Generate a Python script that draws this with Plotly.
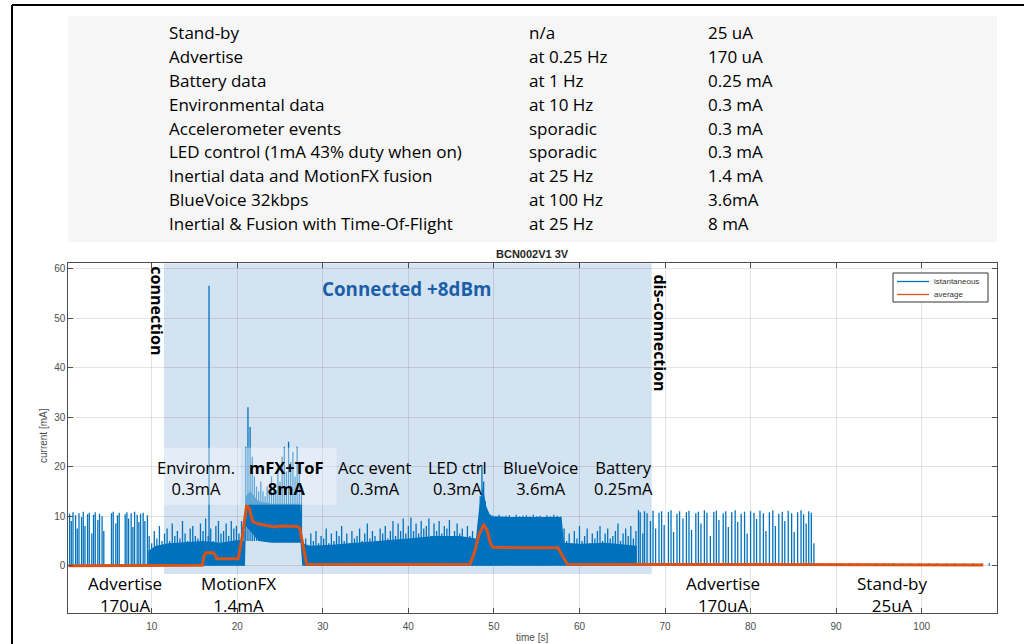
import plotly.graph_objects as go

W, H = 1024, 644

# ---------------- table data ----------------
table_names = ["Stand-by", "Advertise", "Battery data", "Environmental data",
               "Accelerometer events", "LED control (1mA 43% duty when on)",
               "Inertial data and MotionFX fusion", "BlueVoice 32kbps",
               "Inertial & Fusion with Time-Of-Flight"]
table_rates = ["n/a", "at 0.25 Hz", "at 1 Hz", "at 10 Hz", "sporadic", "sporadic",
               "at 25 Hz", "at 100 Hz", "at 25 Hz"]
table_currents = ["25 uA", "170 uA", "0.25 mA", "0.3 mA", "0.3 mA", "0.3 mA",
                  "1.4 mA", "3.6mA", "8 mA"]

# ---------------- instantaneous current: advertising spikes ----------------
adv1_t = [0.4, 0.6, 0.8, 1.1, 1.3, 1.5, 1.8, 2.0, 2.2, 2.5, 2.7, 3.0, 3.2, 3.4, 3.7, 3.9, 4.2, 4.4,
          5.3, 5.5, 5.8, 6.0, 6.2,
          6.9, 7.1, 7.3, 7.6, 7.8, 8.0, 8.3, 8.5, 8.7, 9.0, 9.2, 9.5]
adv1_h = [10.5, 9.0, 10.8, 10.2, 7.5, 10.6, 9.8, 10.9, 8.0, 10.4, 10.7, 6.5, 10.3, 10.8, 9.2, 10.5, 10.0, 7.0,
          10.6, 10.9, 8.5, 10.2, 10.7,
          10.4, 10.8, 9.5, 10.6, 7.8, 10.9, 10.3, 8.8, 10.5, 10.7, 9.0, 10.2]

adv2_t = [66.9, 67.1, 67.4, 67.6, 67.9, 68.3, 68.6, 68.9, 69.3, 69.6,
          69.9, 70.4, 70.7, 71.0, 71.4, 71.7, 72.1, 72.5, 72.8, 73.1,
          73.6, 73.9, 74.2, 74.6, 74.9, 75.3, 75.7, 76.0, 76.3, 76.8,
          77.1, 77.4, 77.8, 78.2, 78.5, 78.9, 79.3, 79.6, 80.0, 80.4,
          80.7, 81.1, 81.5, 81.8, 82.2, 82.6, 82.9, 83.3, 83.7, 84.0,
          84.4, 84.8, 85.1, 85.5, 85.9, 86.2, 86.5, 86.8, 87.1, 87.4]
adv2_h = [11.2, 10.8, 6.5, 11.0, 10.6, 9.0, 11.1, 7.5, 10.7, 11.0,
          8.2, 10.9, 11.2, 6.8, 10.5, 11.0, 9.5, 10.8, 11.1, 7.2,
          10.6, 10.9, 8.5, 11.2, 10.7, 6.0, 10.9, 11.1, 9.2, 10.6,
          11.0, 7.8, 10.8, 11.2, 8.8, 10.5, 10.9, 6.5, 11.0, 10.7,
          9.4, 11.1, 10.6, 7.0, 10.8, 11.2, 8.0, 10.5, 10.9, 9.0,
          11.1, 10.6, 6.8, 10.8, 11.2, 10.4, 8.5, 11.0, 10.7, 4.5]

standby_t = [88.4, 89.4, 90.5, 91.5, 92.5, 93.6, 94.6, 95.6, 96.7, 97.7,
             98.7, 99.8, 100.8, 101.8, 102.9, 103.9, 104.9, 106.0, 107.0, 107.9]
standby_h = [0.5, 0.5, 0.5, 0.5, 0.5, 0.5, 0.5, 0.5, 0.5, 0.5,
             0.5, 0.5, 0.5, 0.5, 0.5, 0.5, 0.5, 0.5, 0.5, 0.5]

# ---------------- instantaneous current: connected phases (regular sampling) ----------------
envA_start, envA_step = 9.7, 0.3
envA_h = [6.0, 4.5, 7.0, 5.5, 8.0, 5.0, 6.5, 7.5, 5.0, 8.5,
          6.0, 7.0, 5.5, 9.0, 6.5, 5.0, 7.5, 8.0, 6.0, 5.5,
          8.5, 7.0, 9.5, 6.0, 7.5, 5.0, 8.0, 9.0, 6.5, 7.0,
          8.5, 6.0, 9.0, 7.5, 8.0, 6.5, 9.0, 7.0]
tofB_start, tofB_step, tofB_base = 21.0, 0.25, 5.0
tofB_h = [24, 32, 28, 22, 18, 16, 15, 17, 15, 14,
          16, 15, 18, 16, 15, 20, 17, 22, 24, 19,
          25, 21, 23, 18, 24, 20, 16]
accC_start, accC_step = 28.0, 0.3
accC_h = [5.5, 4.0, 6.5, 5.0, 7.0, 4.5, 6.0, 5.5, 7.5, 4.5,
          6.5, 5.0, 7.0, 6.0, 8.0, 5.0, 6.5, 4.5, 7.0, 5.5,
          6.0, 7.5, 5.0, 6.5, 8.5, 5.5, 7.0, 6.0, 5.0, 7.5,
          6.5, 8.0, 5.5, 7.0, 9.0, 6.0, 8.5, 7.0, 9.5, 6.5,
          8.0, 9.7, 7.0, 8.5, 6.5, 9.0, 7.5, 8.0, 9.5, 6.0,
          8.5, 7.0, 9.0, 6.5, 8.0, 7.5, 9.2, 6.0, 7.0, 8.5,
          6.5, 7.5, 5.5, 8.0, 6.0, 7.0, 5.0]
ledD_start, ledD_step = 48.0, 0.2
ledD_h = [5, 9, 14, 20, 17, 13, 11, 10.5, 10.3]
bvE_start, bvE_step = 49.8, 0.4
bvE_h = [10.2, 10.0, 10.3, 9.9, 10.1, 10.2, 9.8, 10.3, 10.0, 10.1,
         10.2, 9.9, 10.3, 10.0, 10.1, 9.8, 10.2, 10.0, 10.3, 10.1, 9.9]
batF_start, batF_step = 58.2, 0.3
batF_h = [7.5, 5.0, 6.5, 4.5, 7.0, 5.5, 8.0, 5.0, 6.0, 7.5,
          4.5, 6.5, 5.5, 7.0, 8.0, 5.0, 6.5, 7.5, 5.5, 6.0,
          7.0, 8.5, 5.0, 6.5, 7.5, 6.0, 8.0, 5.5, 7.0]
tall_t = [16.7]
tall_h = [56.5]

# dense band (envelope of the densely packed samples)
band_t = [9.6, 10.5, 12.0, 14.0, 16.0, 18.0, 20.0, 20.9, 21.0, 21.5,
          22.5, 24.0, 26.0, 27.4, 27.6, 28.5, 31.0, 34.0, 37.0, 40.0,
          43.0, 46.0, 47.9, 48.3, 48.7, 49.1, 49.6, 52.0, 55.0, 57.9,
          58.2, 60.0, 63.0, 66.7]
band_hi = [3.0, 4.0, 4.5, 4.8, 5.0, 4.6, 5.2, 5.0, 14.0, 15.0,
           13.0, 12.5, 12.5, 12.5, 4.5, 4.0, 4.2, 4.6, 5.0, 5.5,
           6.0, 6.0, 5.5, 12.0, 16.0, 12.0, 10.0, 9.8, 9.8, 9.8,
           4.6, 4.4, 4.6, 4.0]
band_lo = [0, 0, 0, 0, 0, 0, 0, 0, 8.0, 7.0,
           5.0, 4.6, 4.6, 4.6, 0, 0, 0, 0, 0, 0,
           0, 0, 0, 0, 0, 0, 0, 0, 0, 0,
           0, 0, 0, 0]

# ---------------- average current ----------------
avg_t = [0.25, 10.0, 15.9, 16.1, 16.3, 17.2, 17.4, 17.6, 20.1, 20.6,
         21.1, 21.4, 21.8, 22.5, 23.8, 24.4, 25.0, 27.0, 27.3, 27.7,
         28.1, 40.0, 47.2, 47.7, 48.3, 48.8, 49.2, 49.6, 49.9, 54.0,
         57.5, 58.0, 58.6, 70.0, 87.5, 107.2]
avg_y = [0.0, 0.05, 0.1, 1.8, 2.6, 2.6, 2.2, 1.4, 1.4, 6.0,
         12.2, 11.6, 8.9, 8.4, 8.0, 7.8, 8.0, 7.9, 7.6, 4.0,
         0.3, 0.25, 0.3, 2.5, 6.5, 8.2, 7.2, 4.5, 3.7, 3.6,
         3.6, 2.0, 0.3, 0.25, 0.2, 0.15]

# ---------------- annotation labels ----------------
phase_labels = ["Environm.<br>0.3mA", "<b>mFX+ToF<br>8mA</b>", "Acc event<br>0.3mA",
                "LED ctrl<br>0.3mA", "BlueVoice<br>3.6mA", "Battery<br>0.25mA"]
phase_x = [15.18, 25.70, 36.04, 45.80, 55.39, 65.09]
bottom_labels = ["Advertise<br>170uA", "MotionFX<br>1.4mA", "Advertise<br>170uA", "Stand-by<br>25uA"]
bottom_x = [6.88, 20.09, 76.83, 96.64]
legend_names = ["istantaneous", "average"]

BLUE = "#0072BD"
ORANGE = "#D95319"

def spike_xy(times, heights, base=0.0):
    xs, ys = [], []
    for t, h in zip(times, heights):
        xs += [t, t, None]
        ys += [base, h, None]
    return xs, ys

def grid_times(start, step, vals):
    return [round(start + i * step, 4) for i in range(len(vals))]

sx, sy = [], []
for tt, hh, b in [
    (adv1_t, adv1_h, 0.0),
    (grid_times(envA_start, envA_step, envA_h), envA_h, 0.0),
    (grid_times(tofB_start, tofB_step, tofB_h), tofB_h, tofB_base),
    (grid_times(accC_start, accC_step, accC_h), accC_h, 0.0),
    (grid_times(ledD_start, ledD_step, ledD_h), ledD_h, 0.0),
    (grid_times(bvE_start, bvE_step, bvE_h), bvE_h, 0.0),
    (grid_times(batF_start, batF_step, batF_h), batF_h, 0.0),
    (tall_t, tall_h, 0.0),
    (adv2_t, adv2_h, 0.0),
    (standby_t, standby_h, 0.0),
]:
    x_, y_ = spike_xy(tt, hh, b)
    sx += x_
    sy += y_

fig = go.Figure()

fig.add_trace(go.Scatter(
    x=band_t + band_t[::-1], y=band_hi + band_lo[::-1],
    fill="toself", fillcolor=BLUE, line=dict(width=0, color=BLUE),
    mode="lines", showlegend=False, hoverinfo="skip"))

fig.add_trace(go.Scatter(x=sx, y=sy, mode="lines", name=legend_names[0],
                         line=dict(color=BLUE, width=1.3), showlegend=False))
fig.add_trace(go.Scatter(x=avg_t, y=avg_y, mode="lines", name=legend_names[1],
                         line=dict(color=ORANGE, width=3), showlegend=False))

# ---------------- layout ----------------
x0p, x1p = 68.3 / W, 996.7 / W
y0p, y1p = (H - 612.7) / H, (H - 263.3) / H

def px_x(px):
    return px / W

def px_y(py):
    return (H - py) / H

axis_font = dict(family="Liberation Sans, Arial, sans-serif", size=10, color="#4d4d4d")
fig.update_layout(
    width=W, height=H,
    margin=dict(l=0, r=0, t=0, b=0),
    paper_bgcolor="white", plot_bgcolor="white",
    showlegend=False,
    xaxis=dict(domain=[x0p, x1p], range=[0.25, 108.77],
               tickvals=[10, 20, 30, 40, 50, 60, 70, 80, 90, 100],
               showgrid=True, gridcolor="rgba(38,38,38,0.13)", gridwidth=1,
               zeroline=False, showline=True, linecolor="#4d4d4d", linewidth=1,
               mirror="ticks", ticks="inside", ticklen=5, tickcolor="#4d4d4d",
               tickfont=axis_font, ticklabelstandoff=4),
    yaxis=dict(domain=[y0p, y1p], range=[-9.5, 61.05],
               tickvals=[0, 10, 20, 30, 40, 50, 60],
               showgrid=True, gridcolor="rgba(38,38,38,0.13)", gridwidth=1,
               zeroline=False, showline=True, linecolor="#4d4d4d", linewidth=1,
               mirror="ticks", ticks="inside", ticklen=5, tickcolor="#4d4d4d",
               tickfont=axis_font),
)

shapes = []
# outer frame lines
shapes.append(dict(type="line", xref="paper", yref="paper", x0=px_x(12), x1=1, y0=px_y(5), y1=px_y(5),
                   line=dict(color="black", width=2)))
shapes.append(dict(type="line", xref="paper", yref="paper", x0=px_x(12), x1=px_x(12), y0=0, y1=px_y(5),
                   line=dict(color="black", width=2)))
# table background
shapes.append(dict(type="rect", xref="paper", yref="paper", x0=px_x(68), x1=px_x(997),
                   y0=px_y(242), y1=px_y(16), fillcolor="#f6f6f6", line=dict(width=0), layer="below"))
# connected region
shapes.append(dict(type="rect", xref="x", yref="y", x0=11.44, x1=68.44, y0=-1.7, y1=61.05,
                   fillcolor="#d3e3f2", line=dict(width=0), layer="below"))
# light boxes behind labels
shapes.append(dict(type="rect", xref="x", yref="y", x0=11.3, x1=20.4, y0=12.3, y1=23.8,
                   fillcolor="rgba(255,255,255,0.38)", line=dict(width=0), layer="above"))
shapes.append(dict(type="rect", xref="x", yref="y", x0=20.9, x1=31.6, y0=12.3, y1=23.8,
                   fillcolor="rgba(255,255,255,0.38)", line=dict(width=0), layer="above"))
# manual legend box and samples
shapes.append(dict(type="rect", xref="paper", yref="paper", x0=px_x(893), x1=px_x(988),
                   y0=px_y(302), y1=px_y(273), fillcolor="white", line=dict(color="#333333", width=1),
                   layer="above"))
shapes.append(dict(type="line", xref="paper", yref="paper", x0=px_x(897), x1=px_x(929),
                   y0=px_y(281.5), y1=px_y(281.5), line=dict(color=BLUE, width=1.3), layer="above"))
shapes.append(dict(type="line", xref="paper", yref="paper", x0=px_x(897), x1=px_x(929),
                   y0=px_y(294.5), y1=px_y(294.5), line=dict(color=ORANGE, width=1.3), layer="above"))
fig.update_layout(shapes=shapes)

ann = []
TFONT = "Open Sans, Calibri, sans-serif"
row_y = [33 + i * 23.75 for i in range(len(table_names))]
for i in range(len(table_names)):
    yp = px_y(row_y[i])
    for col_x, txt in [(167, table_names[i]), (527, table_rates[i]), (706, table_currents[i])]:
        ann.append(dict(x=px_x(col_x), y=yp, xref="paper", yref="paper", text=txt, showarrow=False,
                        xanchor="left", yanchor="middle",
                        font=dict(family=TFONT, size=17, color="#000000")))

# legend texts
for name, ly in zip(legend_names, [281.5, 294.5]):
    ann.append(dict(x=px_x(932), y=px_y(ly), xref="paper", yref="paper", text=name, showarrow=False,
                    xanchor="left", yanchor="middle",
                    font=dict(family="Liberation Sans, Arial, sans-serif", size=8, color="#333333")))

# chart title
ann.append(dict(x=px_x(532), y=px_y(254), xref="paper", yref="paper", text="<b>BCN002V1 3V</b>",
                showarrow=False, xanchor="center", yanchor="middle",
                font=dict(family="Liberation Sans, Arial, sans-serif", size=11, color="#262626")))
# axis titles
ann.append(dict(x=px_x(43), y=px_y(436), xref="paper", yref="paper", text="current [mA]",
                showarrow=False, textangle=-90, xanchor="center", yanchor="middle",
                font=dict(family="Liberation Sans, Arial, sans-serif", size=10, color="#4d4d4d")))
ann.append(dict(x=px_x(532), y=px_y(630), xref="paper", yref="paper", text="time [s]",
                showarrow=False, xanchor="center", yanchor="top",
                font=dict(family="Liberation Sans, Arial, sans-serif", size=10, color="#4d4d4d")))

for txt, xv in zip(phase_labels, phase_x):
    ann.append(dict(x=xv, y=17.6, xref="x", yref="y", text=txt, showarrow=False,
                    xanchor="center", yanchor="middle",
                    font=dict(family=TFONT, size=16.5, color="#000000")))
for txt, xv in zip(bottom_labels, bottom_x):
    ann.append(dict(x=xv, y=-5.8, xref="x", yref="y", text=txt, showarrow=False,
                    xanchor="center", yanchor="middle",
                    font=dict(family=TFONT, size=17, color="#000000")))

ann.append(dict(x=10.68, y=51.45, xref="x", yref="y", text="<b>connection</b>", showarrow=False,
                textangle=90, xanchor="center", yanchor="middle",
                font=dict(family=TFONT, size=16, color="#000000")))
ann.append(dict(x=69.41, y=46.9, xref="x", yref="y", text="<b>dis-connection</b>", showarrow=False,
                textangle=90, xanchor="center", yanchor="middle",
                font=dict(family=TFONT, size=16, color="#000000")))
ann.append(dict(x=39.78, y=55.9, xref="x", yref="y", text="<b>Connected +8dBm</b>", showarrow=False,
                xanchor="center", yanchor="middle",
                font=dict(family=TFONT, size=18.8, color="#1b5fa8")))

fig.update_layout(annotations=ann)

fig.write_html("out.html", config={"displayModeBar": False},
               post_script="document.body.style.margin='0';document.body.style.overflow='hidden';")
